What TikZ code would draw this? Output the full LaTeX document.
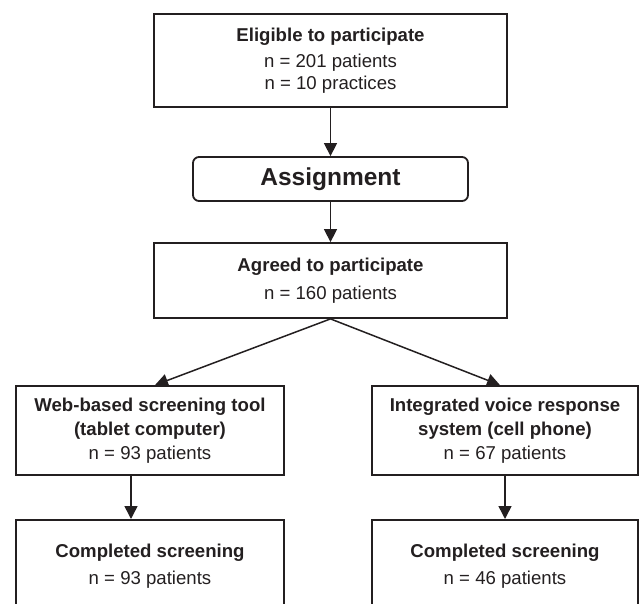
\documentclass[tikz,border=0pt]{standalone}
\usepackage{fontspec}
\setmainfont{Liberation Sans}
\usetikzlibrary{arrows.meta,positioning}
\definecolor{ink}{HTML}{231F20}

\begin{document}
\begin{tikzpicture}[x=1pt,y=-1pt,
    box/.style={draw=ink, line width=1.8pt, text=ink, align=center, inner sep=0pt,
        font=\fontsize{18.6}{22}\selectfont},
    flow/.style={draw=ink, line width=1.5pt, -{Triangle[width=13pt,length=13pt]}}]
    \useasboundingbox (0,0) rectangle (639,604);
    \clip (0,0) rectangle (639,604);
    % top of the flow
    \node [box, minimum width=353pt, minimum height=93pt] (elig) at (330.5,60.5)
        {\textbf{Eligible to participate}\\[4pt]n = 201 patients\\n = 10 practices};
    \node [box, rounded corners=6pt, minimum width=275pt, minimum height=44pt,
        font=\fontsize{24.5}{28}\selectfont\bfseries] (assign) at (330.5,179) {Assignment};
    \node [box, minimum width=353pt, minimum height=75pt] (agreed) at (330.5,280.5)
        {\textbf{Agreed to participate}\\[6pt]n = 160 patients};
    % the two arms
    \node [box, minimum width=268pt, minimum height=89pt] (web) at (150,430.5)
        {\textbf{Web-based screening tool}\\[2pt]\textbf{(tablet computer)}\\[2pt]n = 93 patients};
    \node [box, minimum width=266pt, minimum height=89pt] (ivr) at (505,430.5)
        {\textbf{Integrated voice response}\\[2pt]\textbf{system (cell phone)}\\[2pt]n = 67 patients};
    \node [box, anchor=north, minimum width=268pt, inner ysep=24pt, text depth=70pt] (webdone) at (150,519)
        {\textbf{Completed screening}\\[5pt]n = 93 patients};
    \node [box, anchor=north, minimum width=266pt, inner ysep=24pt, text depth=70pt] (ivrdone) at (505,519)
        {\textbf{Completed screening}\\[5pt]n = 46 patients};
    % arrows
    \draw [flow] (elig) -- (assign);
    \draw [flow] (assign) -- (agreed);
    \draw [flow] (agreed.south) -- ([xshift=5pt]web.north);
    \draw [flow] (agreed.south) -- ([xshift=-5pt]ivr.north);
    \draw [flow] ([xshift=-19pt]web.south) -- ([xshift=-19pt]webdone.north);
    \draw [flow] (ivr.south) -- (ivrdone.north);
\end{tikzpicture}
\end{document}
